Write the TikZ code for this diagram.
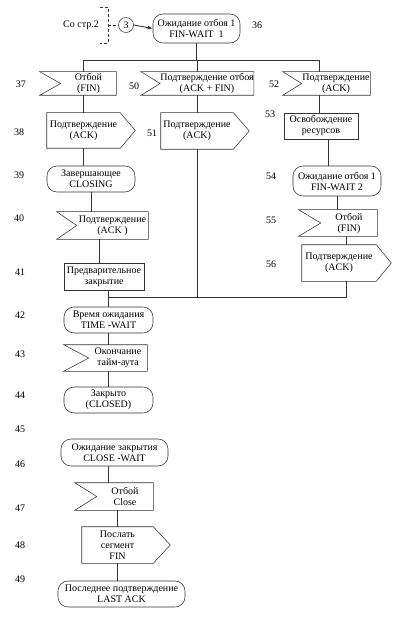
\documentclass[tikz,border=0pt]{standalone}
\usepackage{fontspec}
\setmainfont{Liberation Serif}
\usetikzlibrary{calc,arrows.meta}
\tikzset{
  base/.style={inner sep=0pt, align=center, font=\fontsize{10}{11}\selectfont},
  stadium/.style={base, draw, rounded corners=10pt},
  rectbox/.style={base, draw},
  plain/.style={base, draw=none},
  num/.style={inner sep=0pt, font=\fontsize{10}{11}\selectfont},
}
\newcommand\sendoutline[2]{\draw (#1.north west) -- (#1.north east) -- ($(#1.east)+(#2,0)$) -- (#1.south east) -- (#1.south west) -- cycle;}
\newcommand\recvoutline[2]{\draw ($(#1.north west)+(-#2,0)$) -- (#1.north east) -- (#1.south east) -- ($(#1.south west)+(-#2,0)$) -- (#1.west) -- cycle;}
\begin{document}
\begin{tikzpicture}[x=1pt,y=-1pt, line width=0.55pt, draw=black!80]
\useasboundingbox (0,0) rectangle (417,620);

% entry
\node[num] (src) at (81,25) {Со стр.2};
\node[circle, draw, minimum size=15pt, inner sep=0pt, font=\fontsize{10}{11}\selectfont] (c3) at (126,25) {3};
\coordinate (brT) at (100,7);
\coordinate (brB) at (100,43);
\coordinate (brM) at (108,25);
\draw[dash pattern=on 3pt off 2pt, line width=0.8pt] (brT) -- (brT -| brM) -- (brB -| brM) -- (brB);
\draw[dash pattern=on 3pt off 2pt, line width=0.8pt] (brM) -- (c3.west);

% nodes
\node[stadium, minimum width=87pt, minimum height=29pt] (n36) at (196.5,28.5) {Ожидание отбоя 1\\FIN-WAIT\enspace 1};
\draw[-{Latex[length=5pt,width=4pt]}, line width=0.9pt] (c3.east) -- (n36.west);

\node[plain, minimum width=55pt, minimum height=23pt] (n37) at (88.5,83.5) {Отбой\\(FIN)};
\recvoutline{n37}{21}
\node[plain, minimum width=92pt, minimum height=23pt] (n50) at (207,83.5) {Подтверждение отбоя\\(ACK + FIN)};
\recvoutline{n50}{19}
\node[plain, minimum width=68pt, minimum height=23pt] (n52) at (336,83.5) {Подтверждение\\(ACK)};
\recvoutline{n52}{19}

\node[plain, minimum width=73pt, minimum height=35pt] (n38) at (83.5,130.5) {Подтверждение\\(ACK)};
\sendoutline{n38}{15}
\node[plain, minimum width=72pt, minimum height=36pt] (n51) at (197,131) {Подтверждение\\(ACK)};
\sendoutline{n51}{16}
\node[rectbox, minimum width=74pt, minimum height=26pt] (n53) at (321,126) {Освобождение\\ресурсов};

\node[stadium, minimum width=88pt, minimum height=26pt] (n39) at (91,179) {Завершающее\\CLOSING};
\node[stadium, minimum width=88pt, minimum height=30pt] (n54) at (337,181) {Ожидание отбоя 1\\FIN-WAIT 2};

\node[plain, minimum width=71pt, minimum height=27pt] (n40) at (112.5,225.5) {Подтверждение\\(ACK )};
\recvoutline{n40}{20}
\node[plain, minimum width=56pt, minimum height=26pt] (n55) at (349,223) {Отбой\\(FIN)};
\recvoutline{n55}{22}

\node[plain, minimum width=74pt, minimum height=36pt] (n56) at (339,263) {Подтверждение\\(ACK)};
\sendoutline{n56}{15}
\node[rectbox, minimum width=80pt, minimum height=27pt] (n41) at (104,276.5) {Предварительное\\закрытие};

\node[stadium, minimum width=89pt, minimum height=26pt] (n42) at (108.5,320) {Время ожидания\\TIME -WAIT};
\node[plain, minimum width=58pt, minimum height=26pt] (n43) at (118,358) {Окончание\\тайм-аута};
\recvoutline{n43}{25}
\node[stadium, minimum width=89pt, minimum height=26pt] (n44) at (108.5,400) {Закрыто\\(CLOSED)};

\node[stadium, minimum width=107pt, minimum height=27pt] (n46) at (114.5,452.5) {Ожидание закрытия\\CLOSE -WAIT};
\node[plain, minimum width=56pt, minimum height=27pt] (n47) at (125,496.5) {Отбой\\Close};
\recvoutline{n47}{22}
\node[plain, minimum width=71pt, minimum height=36pt] (n48) at (117.5,545) {Послать\\сегмент\\FIN};
\sendoutline{n48}{17}
\node[stadium, minimum width=127pt, minimum height=26pt] (n49) at (121.5,594) {Последнее подтверждение\\LAST ACK};

% junction coordinates
\coordinate (j37) at (83,60);
\coordinate (j50) at (197,60);
\coordinate (j52) at (319,60);
\coordinate (v40) at (99,0);
\coordinate (v53) at (328,0);
\coordinate (v56) at (346,0);
\coordinate (v46) at (108,0);
\coordinate (b2) at (0,297);

% connectors
\draw (n36.south) -- (n36.south |- j37);
\draw (j37) -- (j52);
\draw (j37) -- (j37 |- n37.north);
\draw (j50) -- (j50 |- n50.north);
\draw (j52) -- (j52 |- n52.north);
\draw (j37 |- n37.south) -- (j37 |- n38.north);
\draw (j50 |- n50.south) -- (j50 |- n51.north);
\draw (j52 |- n52.south) -- (j52 |- n53.north);
\draw (n38.south) -- (n38.south |- n39.north);
\draw (n39.south) -- (n39.south |- n40.north);
\draw (n40.south -| v40) -- (n41.north -| v40);
\draw (n42.north |- n41.south) -- (n42.north);
\draw (n51.south) -- (n51.south |- b2);
\draw (n53.south -| v53) -- (n54.north -| v53);
\draw (n54.south) -- (n54.south |- n55.north);
\draw (n55.south -| v56) -- (n56.north -| v56);
\draw (n56.south -| v56) -- (b2 -| v56) -- (b2 -| n42.north);
\draw (n42.south) -- (n42.south |- n43.north);
\draw (n44.north |- n43.south) -- (n44.north);
\draw (n46.south -| v46) -- (n47.north -| v46);
\draw (n48.north |- n47.south) -- (n48.north);
\draw (n48.south) -- (n48.south |- n49.north);

% numbers
\node[num] (l36) at (257,25) {36};
\node[num] (l37) at (21,84) {37};
\node[num] (l50) at (134,86) {50};
\node[num] (l52) at (274,84) {52};
\node[num] (l38) at (19,132) {38};
\node[num] (l51) at (152,133) {51};
\node[num] (l53) at (270,114) {53};
\node[num] (l39) at (19,175) {39};
\node[num] (l54) at (271,176) {54};
\node[num] (l40) at (19,218) {40};
\node[num] (l55) at (271,220) {55};
\node[num] (l56) at (271,264) {56};
\node[num] (l41) at (20,272) {41};
\node[num] (l42) at (20,315) {42};
\node[num] (l43) at (20,354) {43};
\node[num] (l44) at (20,395) {44};
\node[num] (l45) at (20,429) {45};
\node[num] (l46) at (20,464) {46};
\node[num] (l47) at (20,508) {47};
\node[num] (l48) at (20,545) {48};
\node[num] (l49) at (20,579) {49};
\end{tikzpicture}
\end{document}
